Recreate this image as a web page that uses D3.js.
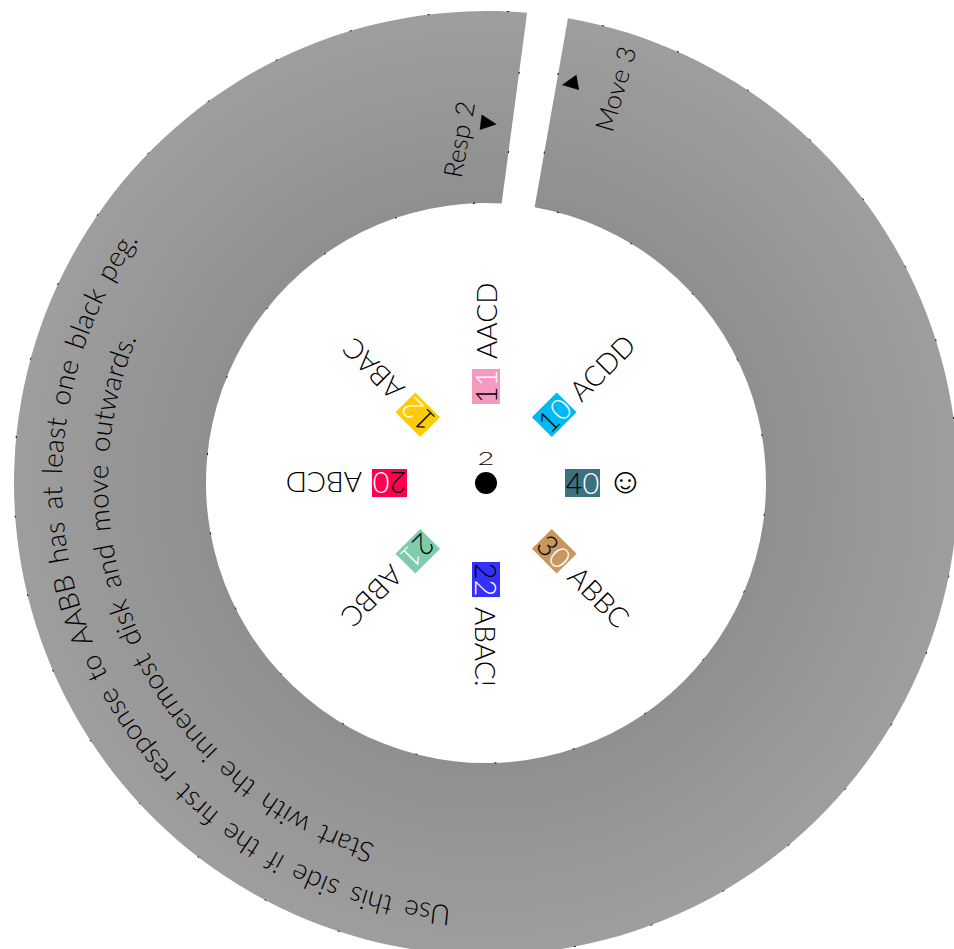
<!DOCTYPE html>
<html>
<head>
<meta charset="utf-8">
<script src="https://cdn.jsdelivr.net/npm/d3@7"></script>
<style>
  html, body { margin: 0; padding: 0; background: #fff; overflow: hidden; }
  text { fill: #000; font-family: Lato, sans-serif; font-weight: 300; }
</style>
</head>
<body>
<div id="vis"></div>
<script>
// the codes and their answers, going round the inner disk
const codes = ['40', '10', '11', '12', '20', '21', '22', '30'];
const answers = ['☺', 'ACDD', 'AACD', 'ABAC', 'ABCD', 'ABBC', 'ABAC!', 'ABBC'];
const codeAngles = [90, 45, 0, -45, -90, -135, 180, 135];
const codeColors = ['#3d717f', '#00b9f2', '#f49ac1', '#ffcb05', '#ff0050', '#7fcbae', '#3530ff', '#c8965f'];

// the ring, in degrees clockwise from the top
const ringStart = 10, ringEnd = 365, ringEndInner = 363.2;

const curvedLines = [
  'Use this side if the first response to AABB has at least one black peg.',
  'Start with the innermost disk and move outwards.'
];
const curvedStart = [184.7, 197];
const curvedRadius = [424, 378];

const width = 954, height = 949, cx = 486, cy = 483;
const rad = d3.scaleLinear().domain([0, 360]).range([0, 2 * Math.PI]);
const R = 472, r = 280;

const svg = d3.select('#vis').append('svg')
  .attr('width', width)
  .attr('height', height)
  .style('display', 'block');

const defs = svg.append('defs');
const grad = defs.append('radialGradient')
  .attr('id', 'ringFill')
  .attr('gradientUnits', 'userSpaceOnUse')
  .attr('cx', 0).attr('cy', 0).attr('r', R);
grad.append('stop').attr('offset', 0.59).attr('stop-color', '#8f8f8f');
grad.append('stop').attr('offset', 1).attr('stop-color', '#9e9e9e');

// helper: point on a circle, degrees clockwise from the top
const pt = (radius, deg) => [radius * Math.sin(rad(deg)), -radius * Math.cos(rad(deg))];

const g = svg.append('g').attr('transform', `translate(${cx},${cy})`);

// ring with the slot cut out, the stroke only shows as small specks
const ring = d3.path();
ring.moveTo(...pt(R, ringStart));
ring.arc(0, 0, R, rad(ringStart) - Math.PI / 2, rad(ringEnd) - Math.PI / 2);
ring.lineTo(...pt(r, ringEndInner));
ring.arc(0, 0, r, rad(ringEndInner) - Math.PI / 2, rad(ringStart) - Math.PI / 2, true);
ring.closePath();

g.append('path')
  .attr('d', ring.toString())
  .attr('fill', 'url(#ringFill)')
  .attr('stroke', '#000')
  .attr('stroke-width', 1)
  .attr('stroke-dasharray', '2 77.7')
  .attr('stroke-dashoffset', 45);

// curved text
curvedLines.forEach((line, i) => {
  const a0 = curvedStart[i], a1 = a0 + 170;
  const p = d3.path();
  p.moveTo(...pt(curvedRadius[i], a0));
  p.arc(0, 0, curvedRadius[i], rad(a0) - Math.PI / 2, rad(a1) - Math.PI / 2);
  defs.append('path').attr('id', 'curve' + i).attr('d', p.toString());
  g.append('text')
    .style('font-size', '28px')
    .style('word-spacing', '4.4px')
    .append('textPath')
    .attr('href', '#curve' + i)
    .text(line);
});

// slot labels
g.append('text')
  .attr('transform', `translate(${pt(305, -4.6)}) rotate(-79.8)`)
  .style('font-size', '26px')
  .style('word-spacing', '1px')
  .text('Resp 2');
g.append('text')
  .attr('transform', `translate(${pt(372, 19.9)}) rotate(-74)`)
  .style('font-size', '26px')
  .style('word-spacing', '1px')
  .text('Move 3');

const tri = d3.symbol().type(d3.symbolTriangle).size(105);
g.append('path')
  .attr('d', tri())
  .attr('transform', `translate(${pt(360, 0)}) rotate(97) scale(1,1.2)`);
g.append('path')
  .attr('d', tri())
  .attr('transform', `translate(${pt(409, 12.2)}) rotate(-100) scale(1,1.2)`);

// centre dot
g.append('circle').attr('r', 11).attr('fill', '#000');
g.append('text')
  .attr('transform', `translate(0,-18) scale(1.7,1)`)
  .attr('text-anchor', 'middle')
  .style('font-size', '17px')
  .text('2');

// tiles
const tiles = g.selectAll('.tile')
  .data(codes)
  .join('g')
  .attr('class', 'tile')
  .attr('transform', (d, i) => `rotate(${codeAngles[i] - 90})`);

tiles.append('rect')
  .attr('x', 79).attr('y', -14)
  .attr('width', 35).attr('height', 28)
  .attr('fill', (d, i) => codeColors[i]);

const digits = tiles.append('text')
  .attr('x', 96.5)
  .attr('y', 11)
  .attr('text-anchor', 'middle')
  .style('font-size', '29px');
digits.append('tspan').text(d => d[0]);
digits.append('tspan').style('fill', '#fff').text(d => d[1]);

tiles.append('text')
  .attr('x', (d, i) => answers[i] === '☺' ? 121 : 124)
  .attr('y', (d, i) => answers[i] === '☺' ? 10 : 11)
  .style('font-size', (d, i) => answers[i] === '☺' ? '36px' : '28px')
  .text((d, i) => answers[i]);
</script>
</body>
</html>
